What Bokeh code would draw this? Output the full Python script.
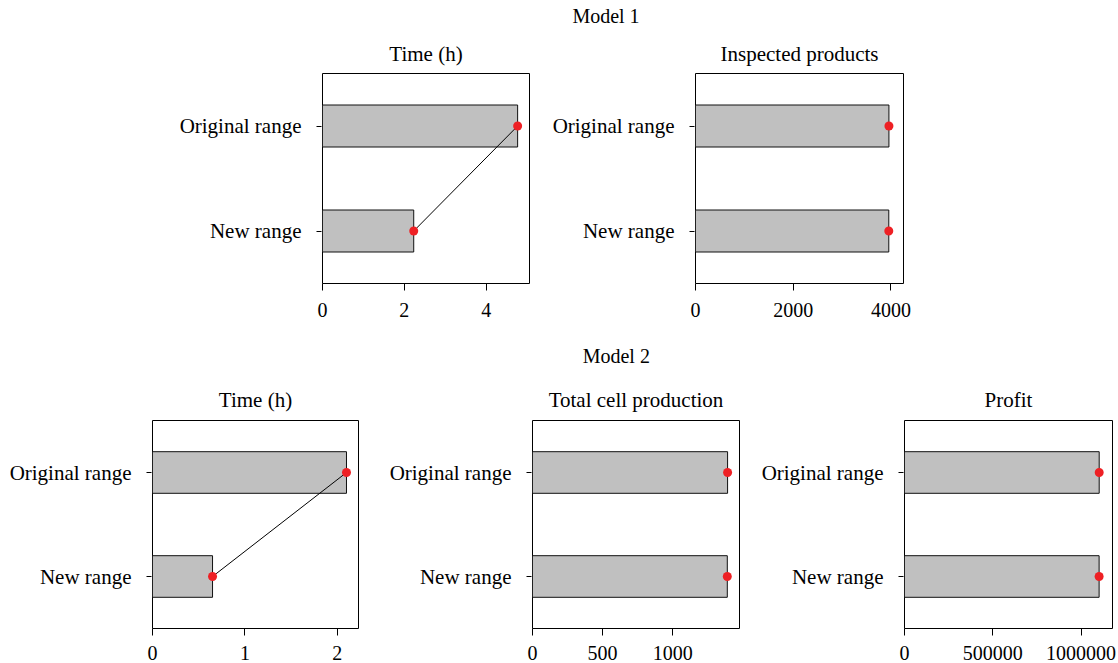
from bokeh.plotting import figure
from bokeh.layouts import column, row
from bokeh.models import Range1d, FactorRange, FixedTicker, NumeralTickFormatter
from bokeh.core.properties import value
from bokeh.embed import file_html
from bokeh.resources import INLINE

# ---------------- data ----------------
categories = ["New range", "Original range"]

m1_time = [2.23, 4.77]
m1_inspected = [3955, 3958]

m2_time = [0.65, 2.10]
m2_cells = [1389, 1391]
m2_profit = [1102000, 1102500]

m1_time_ticks = [0, 2, 4]
m1_inspected_ticks = [0, 2000, 4000]
m2_time_ticks = [0, 1, 2]
m2_cells_ticks = [0, 500, 1000]
m2_profit_ticks = [0, 500000, 1000000]

FONT = "Liberation Serif"
BAR_FILL = "#c0c0c0"
DOT = "#ee2024"


def header(text, width, height, ytext, xtext):
    p = figure(width=width, height=height, x_range=Range1d(0, width), y_range=Range1d(0, height),
               output_backend="svg", toolbar_location=None, min_border=0,
               min_border_left=0, min_border_right=0, min_border_top=0, min_border_bottom=0)
    p.axis.visible = False
    p.grid.visible = False
    p.outline_line_color = None
    p.text(x=[xtext], y=[ytext], text=[text], text_font=value(FONT), text_font_size="20px",
           text_align="center", text_baseline="middle", text_color="black")
    return p


def panel(title, values, xmax, ticks, left, frame_w, right, top, frame_h, bottom, connect,
          title_standoff, xlabel_standoff):
    p = figure(width=left + frame_w + right, height=top + frame_h + bottom,
               y_range=FactorRange(*categories), x_range=Range1d(0, xmax),
               output_backend="svg", toolbar_location=None, title=title,
               min_border_left=left, min_border_right=right,
               min_border_top=top, min_border_bottom=bottom)
    p.title.align = "center"
    p.title.text_font = FONT
    p.title.text_font_size = "21px"
    p.title.text_font_style = "normal"
    p.title.text_color = "black"
    p.title.standoff = title_standoff
    p.grid.visible = False
    p.outline_line_color = "black"
    p.outline_line_width = 1
    p.outline_line_alpha = 1.0

    p.hbar(y=categories, left=0, right=values, height=0.4, fill_color=BAR_FILL,
           line_color="#111111", line_width=1)
    if connect:
        p.line(x=values, y=categories, line_color="black", line_width=1)
    p.scatter(x=values, y=categories, size=9, fill_color=DOT, line_color=None)

    xa = p.xaxis[0]
    xa.ticker = FixedTicker(ticks=ticks)
    xa.formatter = NumeralTickFormatter(format="0")
    xa.axis_line_color = None
    xa.major_tick_out = 7
    xa.major_tick_in = 0
    xa.minor_tick_out = 0
    xa.minor_tick_in = 0
    xa.major_tick_line_color = "black"
    xa.major_label_standoff = xlabel_standoff
    xa.major_label_text_font = FONT
    xa.major_label_text_font_size = "20px"
    xa.major_label_text_color = "black"

    ya = p.yaxis[0]
    ya.axis_line_color = None
    ya.major_tick_out = 6
    ya.major_tick_in = -1
    ya.major_tick_line_color = "black"
    ya.major_label_standoff = 15
    ya.major_label_text_font = FONT
    ya.major_label_text_font_size = "21px"
    ya.major_label_text_color = "black"
    return p


W = 1118

h1 = header("Model 1", W, 31, 15.2, 605.5)
a = panel("Time (h)", m1_time, 5.06, m1_time_ticks, 322, 207, 10, 42, 210, 50, True, 15, 12)
b = panel("Inspected products", m1_inspected, 4256, m1_inspected_ticks, 156, 208, 10, 42, 210, 50, False, 15, 12)

h2 = header("Model 2", W, 40, 17.2, 615.8)
c = panel("Time (h)", m2_time, 2.23, m2_time_ticks, 152, 206, 10, 47, 208, 35, True, 17, 10)
d = panel("Total cell production", m2_cells, 1476, m2_cells_ticks, 164, 207, 10, 47, 208, 35, False, 17, 10)
e = panel("Profit", m2_profit, 1177800, m2_profit_ticks, 155, 208, 6, 47, 208, 35, False, 17, 10)

layout = column(h1, row(a, b), h2, row(c, d, e))

open("out.html", "w").write(file_html(layout, INLINE))
